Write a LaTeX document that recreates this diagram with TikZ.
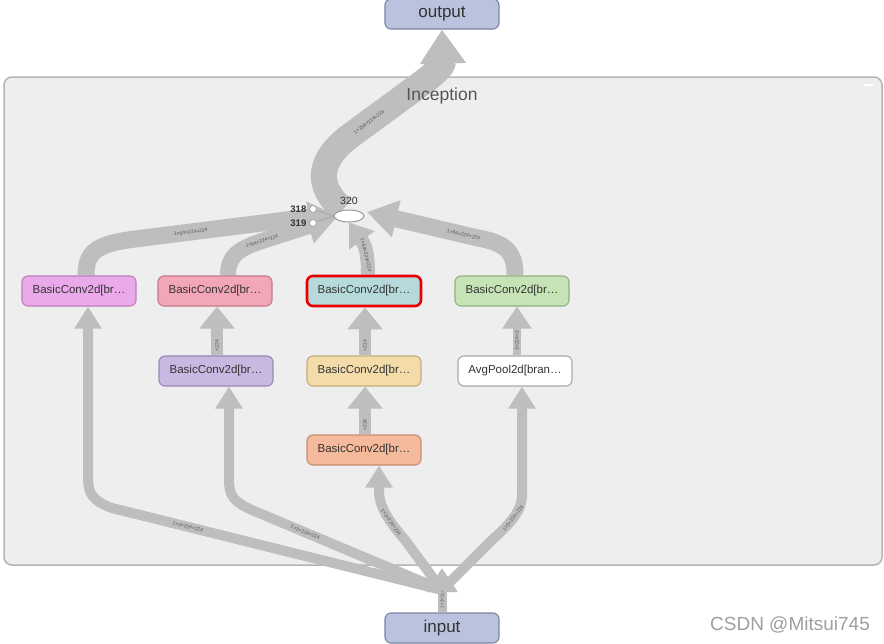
\documentclass[tikz,border=0pt]{standalone}
\usepackage{fontspec}
\setmainfont{Liberation Sans}
\usetikzlibrary{arrows.meta,shapes.geometric}
\definecolor{edgegray}{HTML}{BEBEBE}
\definecolor{boxfill}{HTML}{EEEEEE}
\definecolor{boxline}{HTML}{B4B4B4}
\definecolor{iofill}{HTML}{B9C3DD}
\definecolor{ioline}{HTML}{7C84A4}
\definecolor{txt}{HTML}{333333}
\definecolor{lbl}{HTML}{555555}
\definecolor{magfill}{HTML}{EAA9EA}\definecolor{magline}{HTML}{B97FB9}
\definecolor{pinkfill}{HTML}{F2A6B8}\definecolor{pinkline}{HTML}{C27A8C}
\definecolor{tealfill}{HTML}{B6DADB}\definecolor{redline}{HTML}{E80000}
\definecolor{grnfill}{HTML}{C6E3B5}\definecolor{grnline}{HTML}{92B083}
\definecolor{purfill}{HTML}{C9B8E2}\definecolor{purline}{HTML}{9787B2}
\definecolor{yelfill}{HTML}{F3DCAA}\definecolor{yelline}{HTML}{C4AD7C}
\definecolor{orfill}{HTML}{F5B99B}\definecolor{orline}{HTML}{C78B70}
\definecolor{whline}{HTML}{A8A8A8}
\pgfdeclarelayer{bg}
\pgfdeclarelayer{edges}
\pgfsetlayers{bg,edges,main}
\tikzset{
  opnode/.style={rounded corners=6pt, minimum width=114pt, minimum height=30pt, line width=1.1pt, font=\fontsize{11.5}{12}\selectfont, text=txt, inner sep=0pt},
  ionode/.style={opnode, fill=iofill, draw=ioline, font=\fontsize{17}{18}\selectfont},
  flow/.style={draw=edgegray, line cap=butt},
  elabel/.style={font=\fontsize{5}{5}\selectfont, text=lbl, sloped, inner sep=0.5pt},
  smalldot/.style={circle, draw=gray!70, fill=white, line width=0.8pt, minimum size=7pt, inner sep=0pt},
  dotlabel/.style={font=\bfseries\fontsize{9.5}{10}\selectfont, text=txt, inner sep=0.5pt}
}
\begin{document}
\begin{tikzpicture}[x=1pt,y=-1pt]
\useasboundingbox (0,0) rectangle (884,643);
\begin{pgfonlayer}{bg}
\fill[white] (0,0) rectangle (884,643);
\node[draw=boxline, fill=boxfill, rounded corners=8pt, line width=1.5pt, minimum width=878pt, minimum height=488pt, inner sep=0pt] (incep) at (443,321) {};
\end{pgfonlayer}
\node[font=\fontsize{17.5}{19}\selectfont, text=lbl] (title) at (442,96) {Inception};
\draw[white, line width=1.6pt, line cap=round] (864,85) -- (872,85);

% io nodes
\node[ionode] (output) at (442,14) {output};
\node[ionode] (input) at (442,628) {input};

% op nodes
\node[opnode, fill=magfill, draw=magline] (b1) at (79,291) {BasicConv2d[br…};
\node[opnode, fill=pinkfill, draw=pinkline] (b2b) at (215,291) {BasicConv2d[br…};
\node[opnode, fill=tealfill, draw=redline, line width=2.6pt] (b3c) at (364,291) {BasicConv2d[br…};
\node[opnode, fill=grnfill, draw=grnline] (b4b) at (512,291) {BasicConv2d[br…};
\node[opnode, fill=purfill, draw=purline] (b2a) at (216,371) {BasicConv2d[br…};
\node[opnode, fill=yelfill, draw=yelline] (b3b) at (364,371) {BasicConv2d[br…};
\node[opnode, fill=white, draw=whline] (pool) at (515,371) {AvgPool2d[bran…};
\node[opnode, fill=orfill, draw=orline] (b3a) at (364,450) {BasicConv2d[br…};

% concat
\node[ellipse, draw=gray!80, fill=white, line width=1pt, minimum width=30pt, minimum height=12pt, inner sep=0pt] (cat) at (349,216) {};
\node[font=\fontsize{10.5}{11}\selectfont, text=txt] (catlbl) at (349,201) {320};
\node[smalldot] (d318) at (313,209) {};
\node[smalldot] (d319) at (313,223) {};
\node[dotlabel, anchor=east] (l318) at (307,209) {318};
\node[dotlabel, anchor=east] (l319) at (307,223) {319};

\coordinate (split) at (442,568);
\coordinate (stubtop) at (442,590);

\begin{pgfonlayer}{edges}
% input stub
\draw[flow, line width=9pt, -{Triangle[width=30pt,length=24pt]}] (input.north) -- node[pos=0.3, elabel, font=\fontsize{4.5}{5}\selectfont] {1×3×224} (split);
% branches from input
\draw[flow, line width=10pt, -{Triangle[width=26pt,length=22pt]}] (stubtop) -- node[pos=0.77, elabel] {1×3×224×224} (112,508) .. controls (93,501) and (88,494) .. (88,478) -- ([xshift=9pt]b1.south);
\draw[flow, line width=10pt, -{Triangle[width=26pt,length=22pt]}] (stubtop) -- node[pos=0.72, elabel] {1×3×224×224} (252,510) .. controls (234,502) and (229,496) .. (229,480) -- ([xshift=13pt]b2a.south);
\draw[flow, line width=10pt, -{Triangle[width=26pt,length=22pt]}] (stubtop) -- (405,540) .. controls (386,518) and (379,505) .. node[pos=0.3, elabel] {1×3×224×224} (379,490) -- ([xshift=15pt]b3a.south);
\draw[flow, line width=10pt, -{Triangle[width=26pt,length=22pt]}] (stubtop) -- (492,540) .. controls (512,522) and (522,510) .. node[pos=0.45, elabel] {1×3×224×224} (522,495) -- ([xshift=7pt]pool.south);
% internal vertical edges
\draw[flow, line width=12pt, -{Triangle[width=34pt,length=22pt]}] ([xshift=1pt]b2a.north) -- node[pos=0.2, elabel] {×224} ([xshift=2pt]b2b.south);
\draw[flow, line width=12pt, -{Triangle[width=34pt,length=22pt]}] ([xshift=1pt]b3a.north) -- node[pos=0.2, elabel] {×224} ([xshift=1pt]b3b.south);
\draw[flow, line width=12pt, -{Triangle[width=34pt,length=22pt]}] ([xshift=1pt]b3b.north) -- node[pos=0.2, elabel] {×224} ([xshift=1pt]b3c.south);
\draw[flow, line width=8pt, -{Triangle[width=28pt,length=22pt]}] ([xshift=2pt]pool.north) -- node[pos=0.3, elabel] {3×224×2} ([xshift=5pt]b4b.south);
% into concat
\draw[flow, line width=17pt, -{Triangle[width=30pt,length=26pt]}] ([xshift=7pt]b1.north) .. controls (86,252) and (96,244) .. (135,239) -- node[pos=0.28, elabel] {1×64×224×224} (334,214);
\draw[flow, line width=16pt, -{Triangle[width=34pt,length=30pt]}] ([xshift=13pt]b2b.north) .. controls (228,256) and (238,249) .. (262,241) -- node[pos=0.0, elabel] {1×64×224×224} (337,217);
\draw[flow, line width=14pt, -{Triangle[width=30pt,length=22pt]}] ([xshift=4pt]b3c.north) .. controls (368,256) and (366,246) .. node[pos=0.4, elabel] {1×64×224×224} (cat.south);
\draw[flow, line width=17pt, -{Triangle[width=36pt,length=30pt]}] ([xshift=3pt]b4b.north) .. controls (515,252) and (506,243) .. (478,238) -- node[pos=0.13, elabel] {1×64×224×224} (367,212);
% to output
\draw[flow, line width=26pt, -{Triangle[width=44pt,length=34pt]}] ([xshift=-6pt]cat.north) .. controls (315,186) and (318,160) .. (350,136) -- node[pos=0.3, elabel] {1×256×224×224} (414,89) .. controls (436,73) and (443,66) .. (output.south);
% small inputs
\draw[gray!70, line width=0.8pt] (d318) -- (cat.west);
\draw[gray!70, line width=0.8pt] (d319) -- (cat.west);
\end{pgfonlayer}

\node[font=\fontsize{19}{20}\selectfont, text=gray!75] (mark) at (790,625) {CSDN @Mitsui745};
\end{tikzpicture}
\end{document}
